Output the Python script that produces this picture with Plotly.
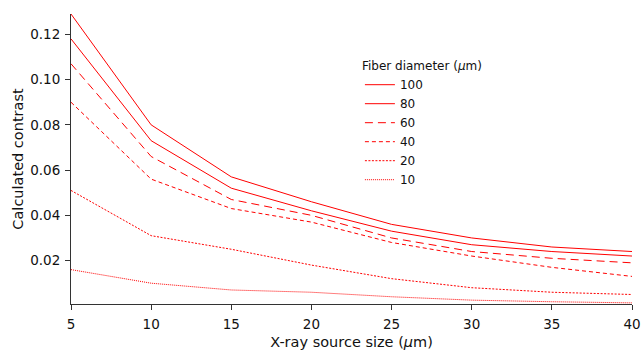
import plotly.graph_objects as go

source_size = [5, 10, 15, 20, 25, 30, 35, 40]
diam_labels = ["100", "80", "60", "40", "20", "10"]
c100 = [0.129, 0.080, 0.057, 0.046, 0.036, 0.030, 0.026, 0.024]
c80 = [0.118, 0.073, 0.052, 0.042, 0.033, 0.027, 0.024, 0.022]
c60 = [0.107, 0.066, 0.047, 0.040, 0.030, 0.024, 0.021, 0.019]
c40 = [0.090, 0.056, 0.043, 0.037, 0.028, 0.022, 0.017, 0.013]
c20 = [0.051, 0.031, 0.025, 0.018, 0.012, 0.008, 0.006, 0.005]
c10 = [0.016, 0.010, 0.007, 0.006, 0.004, 0.0025, 0.0018, 0.0013]
series = [c100, c80, c60, c40, c20, c10]
dashes = ["solid", "solid", "8px,5px", "4px,3px", "2px,1.5px", "1px,1px"]

fig = go.Figure()
for lab, vals, d in zip(diam_labels, series, dashes):
    fig.add_trace(go.Scatter(x=source_size, y=vals, mode="lines", name=lab,
                             line=dict(color="#ff0000", width=1, dash=d)))

font = "DejaVu Sans, Arial, sans-serif"
fig.update_layout(
    width=641, height=350,
    margin=dict(l=71, r=9, t=14, b=46, autoexpand=False),
    paper_bgcolor="white", plot_bgcolor="white",
    font=dict(family=font, size=13.5, color="#111111"),
    showlegend=True,
    legend=dict(x=0.515, y=0.86, xanchor="left", yanchor="top",
                title=dict(text="Fiber diameter (<i>μ</i>m)", font=dict(size=12)),
                font=dict(size=12), bgcolor="rgba(0,0,0,0)",
                tracegroupgap=0, itemwidth=30),
    xaxis=dict(range=[5, 40], tickvals=[5, 10, 15, 20, 25, 30, 35, 40],
               automargin=False,
               showgrid=False, zeroline=False, showline=True, linecolor="#333333",
               linewidth=1, ticks="outside", ticklen=5, tickcolor="#333333",
               ticklabelstandoff=3,
               title=dict(text="X-ray source size (<i>μ</i>m)", font=dict(size=14.5))),
    yaxis=dict(range=[0.0008, 0.129], tickvals=[0.02, 0.04, 0.06, 0.08, 0.10, 0.12],
               tickformat=".2f", automargin=False,
               showgrid=False, zeroline=False, showline=True, linecolor="#333333",
               linewidth=1, ticks="outside", ticklen=5, tickcolor="#333333",
               ticklabelstandoff=2,
               title=dict(text="Calculated contrast", font=dict(size=14.5), standoff=3)),
)
fig.write_html("out.html")
